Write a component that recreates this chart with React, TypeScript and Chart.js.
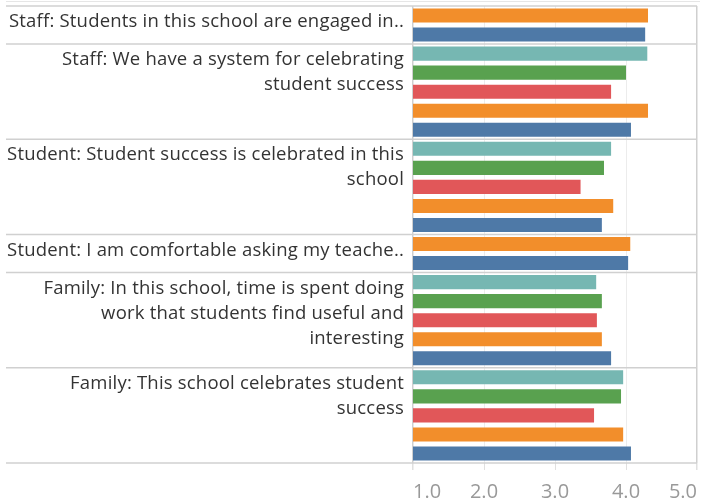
import React, { useEffect, useRef } from "react";
import { Chart, registerables } from "chart.js";

Chart.register(...registerables);

const groupLabels: string[][] = [
  ["Staff: Students in this school are engaged in.."],
  ["Staff: We have a system for celebrating", "student success"],
  ["Student: Student success is celebrated in this", "school"],
  ["Student: I am comfortable asking my teache.."],
  ["Family: In this school, time is spent doing", "work that students find useful and", "interesting"],
  ["Family: This school celebrates student", "success"],
];

const tealValues = [null, 4.3, 3.79, null, 3.58, 3.96];
const greenValues = [null, 4.0, 3.69, null, 3.66, 3.93];
const redValues = [null, 3.79, 3.36, null, 3.59, 3.55];
const orangeValues = [4.31, 4.31, 3.82, 4.06, 3.66, 3.96];
const blueValues = [4.27, 4.07, 3.66, 4.03, 3.79, 4.07];

const seriesList = [tealValues, greenValues, redValues, orangeValues, blueValues];
const seriesColors = ["#76b7b2", "#59a14f", "#e15759", "#f28e2b", "#4e79a7"];
const xTicks = [1, 2, 3, 4, 5];

type Row = { group: number; value: number; color: string };

function buildRows(): Row[] {
  const rows: Row[] = [];
  groupLabels.forEach((_, g) => {
    seriesList.forEach((s, si) => {
      const v = s[g];
      if (v !== null && v !== undefined) rows.push({ group: g, value: v, color: seriesColors[si] });
    });
  });
  return rows;
}

export default function App() {
  const ref = useRef<HTMLCanvasElement | null>(null);
  useEffect(() => {
    if (!ref.current) return;
    const rows = buildRows();
    const groupPlugin = {
      id: "groupPlugin",
      afterDraw(chart: any) {
        const ctx = chart.ctx;
        const y = chart.scales.y;
        const area = chart.chartArea;
        const rowH = y.getPixelForValue(1) - y.getPixelForValue(0);
        ctx.save();
        ctx.strokeStyle = "#e6e6e6";
        ctx.lineWidth = 1;
        ctx.beginPath();
        ctx.moveTo(6, 1.5);
        ctx.lineTo(700, 1.5);
        ctx.stroke();
        let lastBottom = 0;
        groupLabels.forEach((lines, g) => {
          const idx = rows.map((r, i) => (r.group === g ? i : -1)).filter((i) => i >= 0);
          const top = y.getPixelForValue(idx[0]) - rowH / 2;
          lastBottom = y.getPixelForValue(idx[idx.length - 1]) + rowH / 2;
          ctx.strokeStyle = "#d0d0d0";
          ctx.lineWidth = 1.5;
          ctx.beginPath();
          ctx.moveTo(6, top);
          ctx.lineTo(area.right, top);
          ctx.stroke();
          ctx.fillStyle = "#333333";
          ctx.font = "18.5px 'Open Sans'";
          (ctx as any).letterSpacing = "0.2px";
          ctx.textAlign = "right";
          ctx.textBaseline = "alphabetic";
          lines.forEach((t, j) => {
            ctx.fillText(t, 404, top + 21 + j * 25);
          });
        });
        ctx.strokeStyle = "#d0d0d0";
        ctx.lineWidth = 1.5;
        ctx.beginPath();
        ctx.moveTo(6, lastBottom);
        ctx.lineTo(area.right, lastBottom);
        ctx.stroke();
        ctx.restore();
      },
    };
    const chart = new Chart(ref.current, {
      type: "bar",
      data: {
        labels: rows.map((_, i) => String(i)),
        datasets: [
          {
            data: rows.map((r) => r.value),
            backgroundColor: rows.map((r) => r.color),
            barPercentage: 0.74,
            categoryPercentage: 1,
          },
        ],
      },
      options: {
        indexAxis: "y",
        responsive: false,
        animation: false,
        devicePixelRatio: 1,
        layout: { padding: { left: 413, right: 15, top: 6, bottom: 0 } },
        plugins: { legend: { display: false }, tooltip: { enabled: false } },
        scales: {
          y: { display: false },
          x: {
            min: 1,
            max: 5,
            afterBuildTicks: (s: any) => {
              s.ticks = xTicks.map((v) => ({ value: v }));
            },
            afterFit: (s: any) => {
              s.height = 38;
            },
            ticks: {
              callback: (v: any) => Number(v).toFixed(1),
              font: { family: "'Open Sans'", size: 20 },
              color: "#999999",
              align: "inner",
              padding: 10,
            },
            grid: {
              color: (c: any) => (c.tick && (c.tick.value === 1 || c.tick.value === 5) ? "#cfcfcf" : "#ececec"),
              tickColor: "#e0e0e0",
              tickLength: 7,
              lineWidth: (c: any) => (c.tick && (c.tick.value === 1 || c.tick.value === 5) ? 1.5 : 1),
            },
            border: { display: false },
          },
        },
      },
      plugins: [groupPlugin],
    } as any);
    return () => chart.destroy();
  }, []);
  return (
    <div style={{ position: "absolute", left: 0, top: 0, width: 712, height: 501, background: "#fff" }}>
      <canvas ref={ref} width={712} height={501} />
    </div>
  );
}
